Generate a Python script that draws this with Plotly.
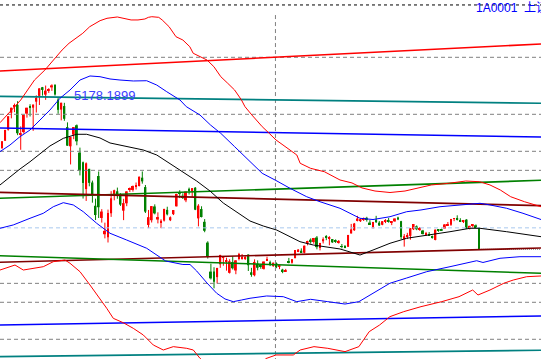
import plotly.graph_objects as go

# ---------------- candle data (index 0 = first visible session) ----------------
opens = [4451, 4535, 4661, 4854, 4924, 4943, 4603, 4633, 4844, 4924,
         4912, 4980, 5046, 5145, 5060, 5102, 5143, 5174, 5004, 4890,
         4930, 4690, 4471, 4604, 4711, 4399, 4289, 3983, 4214, 4058,
         3793, 4132, 3654, 3468, 3433, 3707, 3924, 3958, 3922, 3737,
         3821, 3982, 3973, 4008, 4018, 4113, 4006, 3574, 3628, 3785,
         3636, 3606, 3624, 3746, 3628, 3697, 3786, 3930, 3907, 3855,
         3986, 3955, 3999, 3649, 3755, 3610, 3373, 3042, 3043, 2979,
         3125, 3203, 3157, 3028, 3150, 3055, 3186, 3190, 3190, 3237,
         3034, 3001, 3133, 3099, 3073, 3172, 3150, 3105, 3141, 3097,
         3065, 3046, 3156, 3142, 3195, 3266, 3280, 3257, 3361, 3406,
         3380, 3431, 3310, 3388, 3439, 3417, 3413, 3388, 3371, 3326,
         3325, 3325, 3477, 3514, 3620, 3617, 3641, 3655, 3601, 3547,
         3635, 3600, 3576, 3614, 3631, 3602, 3615, 3659, 3617, 3410,
         3442, 3450, 3525, 3558, 3518, 3510, 3460, 3470, 3441, 3403,
         3513, 3518, 3533, 3573, 3577, 3643, 3645, 3631, 3608, 3635,
         3528, 3566, 3570, 3537]
highs = [4530, 4658, 4814, 4911, 4958, 4986, 4698, 4829, 4911, 4951,
         4947, 5052, 5132, 5148, 5164, 5134, 5178, 5177, 5029, 4968,
         4967, 4744, 4577, 4691, 4720, 4456, 4297, 4287, 4214, 4080,
         3874, 4184, 3754, 3600, 3749, 3959, 3976, 4000, 3936, 3872,
         3958, 4001, 4024, 4058, 4127, 4184, 4030, 3745, 3790, 3809,
         3718, 3639, 3758, 3782, 3671, 3744, 3929, 3970, 3935, 3955,
         4000, 3994, 4006, 3811, 3787, 3641, 3388, 3132, 3092, 3084,
         3233, 3208, 3201, 3183, 3218, 3174, 3256, 3243, 3218, 3238,
         3085, 3182, 3170, 3119, 3157, 3212, 3167, 3145, 3146, 3104,
         3074, 3073, 3198, 3185, 3288, 3298, 3307, 3338, 3394, 3421,
         3426, 3448, 3370, 3433, 3458, 3446, 3413, 3409, 3402, 3357,
         3345, 3460, 3586, 3597, 3678, 3649, 3659, 3667, 3629, 3609,
         3678, 3618, 3617, 3640, 3654, 3617, 3648, 3668, 3621, 3470,
         3484, 3538, 3585, 3569, 3550, 3518, 3495, 3493, 3453, 3521,
         3524, 3532, 3584, 3607, 3643, 3652, 3684, 3651, 3631, 3640,
         3564, 3573, 3580, 3549]
lows = [4441, 4533, 4650, 4790, 4861, 4598, 4431, 4616, 4798, 4811,
        4647, 4856, 4942, 5049, 5001, 5080, 5103, 5049, 4842, 4767,
        4762, 4477, 4264, 4552, 4483, 4139, 3875, 3848, 4015, 3828,
        3630, 3653, 3601, 3421, 3374, 3666, 3855, 3873, 3791, 3629,
        3788, 3949, 3954, 3978, 4013, 4045, 3710, 3538, 3602, 3695,
        3592, 3537, 3613, 3683, 3618, 3687, 3786, 3880, 3870, 3834,
        3921, 3894, 3743, 3558, 3660, 3491, 3191, 2952, 2851, 2906,
        3085, 3109, 3053, 3020, 3066, 3012, 3170, 3178, 3174, 3049,
        2983, 2988, 3056, 3074, 3065, 3163, 3105, 3096, 3081, 3070,
        3024, 3039, 3136, 3133, 3195, 3264, 3259, 3250, 3342, 3361,
        3360, 3296, 3284, 3363, 3400, 3342, 3371, 3369, 3361, 3307,
        3309, 3325, 3477, 3506, 3615, 3608, 3619, 3612, 3580, 3532,
        3598, 3563, 3571, 3595, 3600, 3572, 3610, 3629, 3411, 3327,
        3414, 3406, 3516, 3514, 3506, 3466, 3448, 3455, 3418, 3399,
        3496, 3506, 3533, 3568, 3564, 3617, 3625, 3607, 3596, 3530,
        3523, 3538, 3538, 3295]
closes = [4529, 4658, 4814, 4911, 4942, 4620, 4612, 4829, 4911, 4910,
          4947, 5023, 5132, 5114, 5106, 5122, 5166, 5063, 4887, 4968,
          4785, 4478, 4576, 4690, 4528, 4193, 4053, 4277, 4054, 3913,
          3687, 3776, 3727, 3507, 3709, 3878, 3970, 3924, 3806, 3823,
          3957, 3992, 4018, 4026, 4124, 4071, 3726, 3663, 3789, 3706,
          3664, 3623, 3757, 3695, 3662, 3744, 3928, 3928, 3886, 3955,
          3965, 3994, 3748, 3794, 3664, 3508, 3210, 2965, 2927, 3084,
          3232, 3206, 3167, 3160, 3080, 3170, 3243, 3198, 3200, 3115,
          3005, 3152, 3086, 3098, 3157, 3186, 3116, 3143, 3092, 3101,
          3038, 3053, 3143, 3183, 3288, 3293, 3262, 3338, 3391, 3387,
          3425, 3321, 3369, 3412, 3430, 3434, 3375, 3387, 3383, 3325,
          3317, 3460, 3523, 3590, 3647, 3640, 3650, 3633, 3581, 3607,
          3605, 3568, 3617, 3631, 3610, 3616, 3648, 3636, 3436, 3445,
          3456, 3537, 3585, 3525, 3537, 3470, 3472, 3456, 3435, 3521,
          3510, 3516, 3580, 3579, 3642, 3652, 3636, 3612, 3628, 3534,
          3564, 3573, 3539, 3296]

# ---------------- band curves (bar index, price) ----------------
upper_red_x = [-0.64, 6.0, 10.42, 13.76, 19.27, 21.49, 25.91, 28.13, 31.46, 33.68,
               36.98, 39.19, 41.40, 43.62, 45.83, 46.95, 48.04, 50.26, 51.38, 53.59,
               54.68, 55.8, 58.02, 60.23, 61.32, 65.75, 67.96, 70.17, 72.39, 74.60,
               76.81, 77.93, 80.15, 83.45, 85.70, 87.88, 90.12, 92.30, 94.55, 95.64,
               98.97, 103.4, 106.7, 108.4, 112.25, 115.46, 119.63, 124.44, 129.25, 134.06,
               137.68, 143.23, 148.75, 153.18, 156.51, 159.81, 163.15, 167.58, 172.87]
upper_red_y = [4740, 4999, 5227, 5341, 5569, 5646, 5760, 5835, 5904, 5931,
               5946, 5931, 5912, 5912, 5923, 5942, 5949, 5942, 5912, 5835,
               5778, 5721, 5683, 5607, 5532, 5455, 5379, 5265, 5190, 5113,
               4999, 4923, 4828, 4695, 4619, 4543, 4486, 4429, 4372, 4277,
               4220, 4181, 4124, 4087, 4053, 3996, 3961, 3944, 3961, 3996,
               4030, 4049, 4075, 4067, 4030, 3973, 3896, 3839, 3782]

upper_blue_x = [-0.64, 2.57, 5.77, 8.98, 12.19, 15.39, 18.60, 21.81, 25.02, 28.22,
                31.43, 34.64, 37.84, 42.11, 46.41, 49.62, 52.82, 57.09, 59.11, 63.50,
                66.87, 70.17, 74.60, 79.02, 83.45, 87.88, 92.37, 97.72, 101.99, 108.40,
                112.67, 114.82, 118.99, 124.44, 129.79, 134.38, 140.47, 147.85, 153.30, 156.51,
                161.86, 167.09, 172.87]
upper_blue_y = [4410, 4486, 4581, 4657, 4771, 4885, 5019, 5113, 5227, 5273,
                5265, 5239, 5227, 5216, 5219, 5170, 5094, 4999, 4923, 4828,
                4714, 4619, 4467, 4315, 4163, 4081, 3992, 3896, 3839, 3764,
                3688, 3650, 3636, 3668, 3725, 3745, 3782, 3802, 3821, 3802,
                3764, 3707, 3636]

middle_x = [-0.64, 2.57, 5.77, 8.98, 12.19, 15.39, 19.66, 23.96, 27.16, 31.43,
            34.64, 39.99, 45.32, 49.62, 52.82, 57.09, 62.44, 66.71, 70.98, 75.27,
            79.54, 83.80, 88.10, 92.37, 95.57, 99.84, 104.14, 108.40, 111.61, 114.82,
            118.99, 124.44, 129.79, 137.27, 143.68, 150.10, 153.30, 161.86, 172.87]
middle_y = [4030, 4124, 4212, 4295, 4389, 4475, 4562, 4608, 4608, 4566,
            4509, 4467, 4429, 4372, 4295, 4199, 4075, 3961, 3824, 3716,
            3619, 3562, 3516, 3440, 3383, 3345, 3326, 3300, 3266, 3231,
            3288, 3365, 3422, 3460, 3497, 3536, 3536, 3497, 3440]

lower_blue_x = [-0.64, 3.62, 8.98, 13.25, 16.45, 19.66, 22.87, 26.07, 30.37, 34.64,
                39.99, 46.41, 52.47, 58.02, 60.30, 62.44, 65.75, 68.86, 71.52, 74.18,
                76.81, 79.54, 84.89, 87.88, 90.22, 94.52, 98.97, 104.49, 110.01, 114.46,
                118.89, 124.41, 129.79, 136.21, 143.68, 149.04, 152.24, 154.26, 159.72, 166.13,
                172.87]
lower_blue_y = [3536, 3574, 3650, 3707, 3782, 3828, 3802, 3725, 3593, 3479,
                3402, 3308, 3163, 3123, 3123, 3049, 2912, 2795, 2730, 2699,
                2718, 2738, 2764, 2758, 2756, 2699, 2726, 2699, 2672, 2699,
                2795, 2909, 2969, 3041, 3098, 3137, 3166, 3146, 3194, 3212,
                3212]

lower_red_x = [-0.64, 4.17, 6.83, 10.04, 13.25, 16.45, 20.21, 21.81, 25.02, 28.22,
               31.43, 33.58, 35.70, 38.90, 42.11, 45.32, 48.52, 51.73, 54.94, 59.24,
               61.35, 63.50, 68.31, 74.73, 81.14, 84.57, 87.88, 93.43, 95.64, 100.06,
               104.49, 110.01, 114.46, 117.77, 121.10, 124.41, 128.83, 134.38, 141.02, 146.57,
               150.96, 152.66, 156.51, 160.94, 163.98, 168.28, 172.87]
lower_red_y = [3060, 3117, 3060, 3080, 3098, 3155, 3174, 3137, 3041, 2889,
               2738, 2624, 2509, 2459, 2395, 2319, 2205, 2148, 2186, 2167,
               2148, 2053, 1897, 1806, 1897, 2049, 2091, 2091, 2148, 2186,
               2167, 2129, 2186, 2357, 2433, 2528, 2585, 2642, 2699, 2756,
               2832, 2775, 2832, 2909, 2946, 2984, 2992]

# ---------------- straight channel lines: price at left edge / right edge ----------------
edge_x = [-0.64, 172.87]
channel_names = ["red_top", "teal_top", "blue_top", "green_top", "maroon_top",
                 "maroon_low", "green_low", "blue_low", "teal_low"]
channel_start = [5330, 5041, 4680, 3878, 3946, 3148, 3223, 2433, 2072]
channel_end = [5638, 4962, 4577, 4083, 3794, 3311, 3023, 2536, 2145]
channel_colors = ["#ff0000", "#008080", "#0000ff", "#008000", "#800000",
                  "#800000", "#008000", "#0000ff", "#008080"]

# horizontal reference levels
gray_levels = [5486, 4836, 4414, 4197, 2908, 2692, 2270]
top_level = 6083
prev_close = 3541
last_close = closes[-1]
cursor_index = 87.7
cursor_top = 5968

peak_label = "5178.1899"
code_label = "1A0001  上证指数"

X_RANGE = [-0.641, 172.87]
Y_RANGE = [2045.2, 6139.6]

RED = "#ff0000"
GREEN = "#008000"

fig = go.Figure()

n = len(closes)
idx = list(range(n))
up = [i for i in idx if closes[i] >= opens[i]]
dn = [i for i in idx if closes[i] < opens[i]]


def wick_xy(ids):
    xs, ys = [], []
    for i in ids:
        xs += [i, i, None]
        ys += [lows[i], highs[i], None]
    return xs, ys


for ids, col in ((up, RED), (dn, GREEN)):
    wx, wy = wick_xy(ids)
    fig.add_trace(go.Scatter(x=wx, y=wy, mode="lines",
                             line=dict(color=col, width=1), hoverinfo="skip"))
    fig.add_trace(go.Bar(
        x=ids,
        base=[min(opens[i], closes[i]) for i in ids],
        y=[max(abs(closes[i] - opens[i]), 9) for i in ids],
        width=0.62, marker=dict(color=col, line=dict(width=0)),
        hoverinfo="skip"))

# horizontal dashed levels
for lv in gray_levels:
    fig.add_trace(go.Scatter(x=X_RANGE, y=[lv, lv], mode="lines",
                             line=dict(color="#808080", width=1, dash="4px,3px")))
fig.add_trace(go.Scatter(x=X_RANGE, y=[top_level, top_level], mode="lines",
                         line=dict(color="#000000", width=1, dash="3px,3px")))
fig.add_trace(go.Scatter(x=X_RANGE, y=[prev_close, prev_close], mode="lines",
                         line=dict(color="#a8c8ee", width=1, dash="4px,3px")))
fig.add_trace(go.Scatter(x=[n - 1, X_RANGE[1]], y=[last_close, last_close], mode="lines",
                         line=dict(color="#808080", width=1, dash="1px,1px")))
fig.add_trace(go.Scatter(x=[cursor_index, cursor_index], y=[cursor_top, Y_RANGE[0]],
                         mode="lines",
                         line=dict(color="#808080", width=1, dash="4px,3px")))

# channel lines
for s, e, c in zip(channel_start, channel_end, channel_colors):
    fig.add_trace(go.Scatter(x=edge_x, y=[s, e], mode="lines",
                             line=dict(color=c, width=1.6)))

# band curves
for cx, cy, c in ((upper_red_x, upper_red_y, "#ff0000"),
                  (upper_blue_x, upper_blue_y, "#0000ff"),
                  (middle_x, middle_y, "#000000"),
                  (lower_blue_x, lower_blue_y, "#0000ff"),
                  (lower_red_x, lower_red_y, "#ff0000")):
    fig.add_trace(go.Scatter(x=cx, y=cy, mode="lines",
                             line=dict(color=c, width=1)))

fig.add_annotation(x=22.8, y=5045, text=peak_label, showarrow=False,
                   xanchor="left", yanchor="middle", borderpad=0,
                   font=dict(family="Liberation Sans, Arial, sans-serif",
                             size=13, color="#3c3cff"))
fig.add_annotation(x=151.7, y=6054, text=code_label, showarrow=False,
                   xanchor="left", yanchor="middle", borderpad=0,
                   font=dict(family="Liberation Sans, Noto Sans CJK SC, sans-serif",
                             size=12, color="#0000ff"))

fig.update_layout(
    width=541, height=359, autosize=False,
    margin=dict(l=0, r=0, t=0, b=0, pad=0),
    paper_bgcolor="white", plot_bgcolor="white",
    showlegend=False, barmode="overlay", hovermode=False,
    xaxis=dict(range=X_RANGE, visible=False, fixedrange=True),
    yaxis=dict(range=Y_RANGE, visible=False, fixedrange=True),
)

fig.write_html("out.html", config={"displayModeBar": False},
               post_script="document.body.style.margin='0';document.body.style.overflow='hidden';")
